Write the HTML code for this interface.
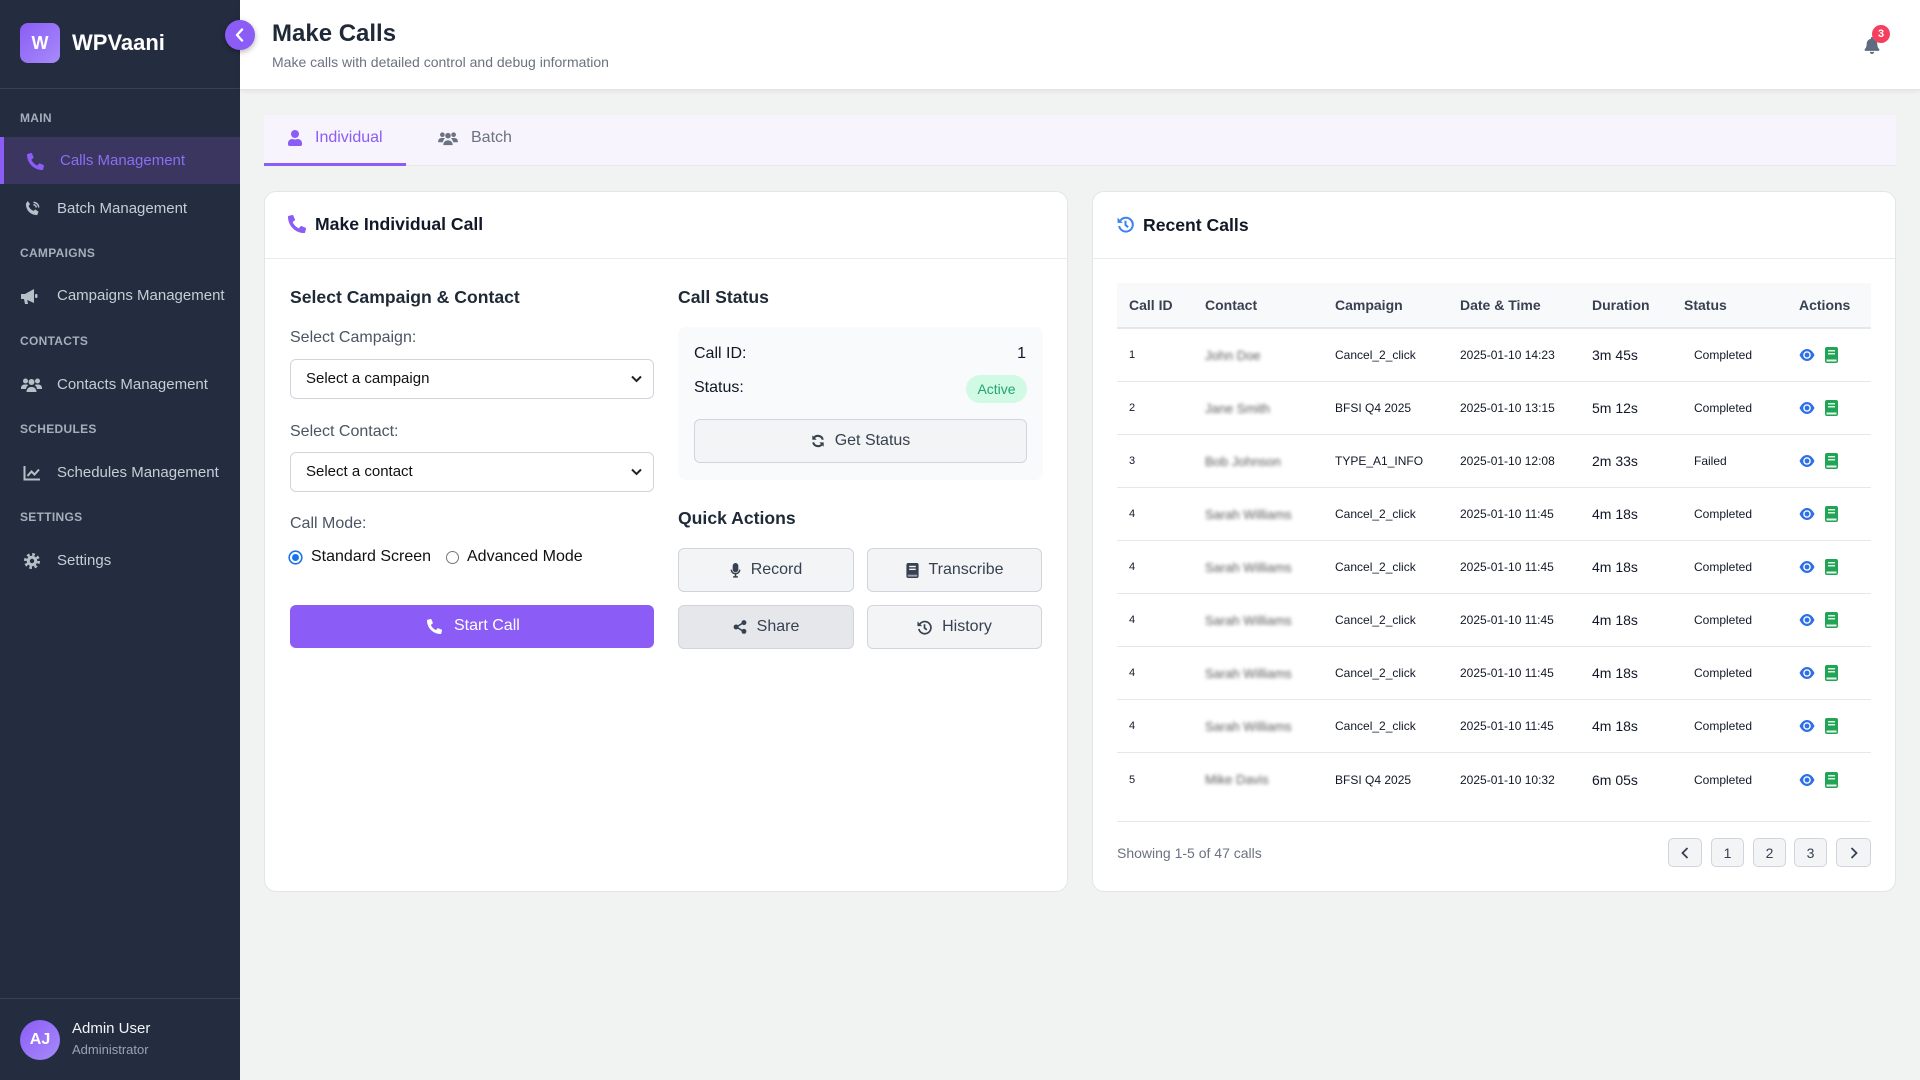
<!DOCTYPE html>
<html>
<head>
<meta charset="utf-8">
<style>
*{box-sizing:border-box;}
html,body{margin:0;padding:0;}
body{width:1920px;height:1080px;overflow:hidden;background:#f1f2f2;font-family:"Liberation Sans",Arial,sans-serif;position:relative;}
.a{position:absolute;white-space:nowrap;}
.sb{position:absolute;left:0;top:0;width:240px;height:1080px;background:#232d3f;}
.sec{position:absolute;left:20px;font-size:12px;font-weight:bold;color:#a6aebb;letter-spacing:0.3px;line-height:16px;}
.nav{position:absolute;left:57px;font-size:15px;color:#c6cdd6;line-height:20px;white-space:nowrap;}
.ico{position:absolute;}
.lbl{position:absolute;font-size:16px;color:#4b5563;line-height:20px;white-space:nowrap;}
.h3{position:absolute;font-size:17.6px;font-weight:bold;color:#1f2937;line-height:22px;white-space:nowrap;}
.sel{position:absolute;left:290px;width:364px;height:40px;border:1px solid #d1d5db;border-radius:6px;background:#fff;}
.sel span{position:absolute;left:15px;top:9px;font-size:15px;color:#111;line-height:20px;}
.sel svg{position:absolute;right:11px;top:15px;}
.btn{position:absolute;display:flex;align-items:center;justify-content:center;gap:10px;font-size:16px;color:#374151;background:#f3f4f6;border:1px solid #d1d5db;border-radius:6px;}
.row{position:absolute;left:1117px;width:754px;height:53px;border-bottom:1px solid #e5e7eb;display:flex;align-items:center;font-size:12px;color:#111827;}
.row > div{padding-left:12px;white-space:nowrap;}
.c1{width:76px;font-size:11px;}
.c2{width:130px;}
.c3{width:125px;}
.c4{width:132px;}
.c5{width:92px;font-size:14px;}
.c6{width:115px;}
.c6 span{padding-left:10px;}
.c7{width:84px;display:flex;align-items:center;gap:10px;}
.blur{color:#5a5a5a;filter:blur(1.8px);font-size:13px;display:inline-block;}
.pg{position:absolute;top:838px;height:29px;background:#f3f4f6;border:1px solid #d1d5db;border-radius:5px;display:flex;align-items:center;justify-content:center;font-size:14px;color:#374151;}
</style>
</head>
<body>

<!-- SIDEBAR -->
<div class="sb"></div>
<div class="a" style="left:20px;top:23px;width:40px;height:40px;border-radius:8px;background:linear-gradient(135deg,#8b5cf6,#a78bfa);color:#fff;font-weight:bold;font-size:18px;line-height:40px;text-align:center;">W</div>
<div class="a" style="left:72px;top:30px;font-size:22px;font-weight:bold;color:#fff;line-height:26px;">WPVaani</div>
<div class="a" style="left:0;top:88px;width:240px;height:1px;background:#364152;"></div>

<div class="sec" style="top:110px;">MAIN</div>
<div class="a" style="left:0;top:137px;width:240px;height:47px;background:#3a365f;border-left:4px solid #8b5cf6;"></div>
<svg class="ico" style="left:27px;top:153px;" width="17" height="17" viewBox="0 0 512 512"><path fill="#8b5cf6" d="M497.39 361.8l-112-48a24 24 0 0 0-28 6.9l-49.6 60.6A370.66 370.66 0 0 1 130.6 204.11l60.6-49.6a23.94 23.94 0 0 0 6.9-28l-48-112A24.16 24.16 0 0 0 122.6.61l-104 24A24 24 0 0 0 0 48c0 256.5 207.9 464 464 464a24 24 0 0 0 23.4-18.6l24-104a24.29 24.29 0 0 0-14.01-27.6z"/></svg>
<div class="nav" style="left:60px;top:151px;color:#8d6df2;">Calls Management</div>

<svg class="ico" style="left:24px;top:200px;" width="17" height="17" viewBox="0 0 18 18"><path fill="#b7bfc9" d="M4 1l2.5 3.5-1.6 1.6c.8 2.6 2.8 4.6 5.4 5.4l1.6-1.6L15.4 12.4 14 16c-7 0-12-5-12-12z"/><path d="M10 2.5a5.5 5.5 0 0 1 5.5 5.5M10 5a3 3 0 0 1 3 3" stroke="#b7bfc9" stroke-width="1.6" fill="none"/></svg>
<div class="nav" style="top:199px;">Batch Management</div>

<div class="sec" style="top:245px;">CAMPAIGNS</div>
<svg class="ico" style="left:20px;top:288px;" width="18" height="17" viewBox="0 0 18 17"><path fill="#b7bfc9" d="M1 6h4l9-5v14l-9-4H1z"/><path fill="#b7bfc9" d="M4 11h3l1 5H5z"/><rect x="15" y="6" width="2.5" height="4" rx="1" fill="#b7bfc9"/></svg>
<div class="nav" style="top:286px;">Campaigns Management</div>

<div class="sec" style="top:333px;">CONTACTS</div>
<svg class="ico" style="left:21px;top:377px;" width="21" height="16" viewBox="0 0 21 16"><circle cx="4.5" cy="4" r="2.5" fill="#b7bfc9"/><circle cx="16.5" cy="4" r="2.5" fill="#b7bfc9"/><circle cx="10.5" cy="5" r="3" fill="#b7bfc9"/><path fill="#b7bfc9" d="M0 11c0-2 1.5-3.5 3.5-3.5h2c.7 0 1.3.2 1.8.5C6 9 5.2 10.4 5 12H0zM21 11c0-2-1.5-3.5-3.5-3.5h-2c-.7 0-1.3.2-1.8.5 1.3 1 2.1 2.4 2.3 4H21zM5.5 15c0-3 2-5 4.5-5h1c2.5 0 4.5 2 4.5 5z"/></svg>
<div class="nav" style="top:375px;">Contacts Management</div>

<div class="sec" style="top:421px;">SCHEDULES</div>
<svg class="ico" style="left:23px;top:465px;" width="18" height="16" viewBox="0 0 18 16"><path d="M1.5 1v13.5H17" stroke="#b7bfc9" stroke-width="2" fill="none"/><path d="M4.5 11l4-4.5 3 3L16 4.5" stroke="#b7bfc9" stroke-width="2" fill="none"/></svg>
<div class="nav" style="top:463px;">Schedules Management</div>

<div class="sec" style="top:509px;">SETTINGS</div>
<svg class="ico" style="left:24px;top:553px;" width="16" height="16" viewBox="0 0 16 16"><circle cx="8" cy="8" r="5.3" fill="#b7bfc9"/><circle cx="8" cy="8" r="6.6" fill="none" stroke="#b7bfc9" stroke-width="2.8" stroke-dasharray="2.6 2.58"/><circle cx="8" cy="8" r="2.2" fill="#232d3f"/></svg>
<div class="nav" style="top:551px;">Settings</div>

<div class="a" style="left:0;top:998px;width:240px;height:1px;background:#364152;"></div>
<div class="a" style="left:20px;top:1020px;width:40px;height:40px;border-radius:50%;background:linear-gradient(135deg,#8b5cf6,#a78bfa);color:#fff;font-weight:bold;font-size:16px;line-height:40px;text-align:center;">AJ</div>
<div class="a" style="left:72px;top:1019px;font-size:15px;color:#f3f4f6;line-height:20px;">Admin User</div>
<div class="a" style="left:72px;top:1042px;font-size:13px;color:#9ca3af;line-height:16px;">Administrator</div>

<!-- HEADER -->
<div class="a" style="left:240px;top:0;width:1680px;height:90px;background:#fff;border-bottom:1px solid #e2e4e6;box-shadow:0 2px 4px rgba(0,0,0,0.05);"></div>
<div class="a" style="left:225px;top:20px;width:30px;height:30px;border-radius:50%;background:#8b5cf6;box-shadow:0 2px 6px rgba(0,0,0,0.3);z-index:5;">
<svg style="position:absolute;left:10px;top:8px;" width="9" height="14" viewBox="0 0 9 14"><path d="M7 1.5L2 7l5 5.5" stroke="#fff" stroke-width="2.4" fill="none" stroke-linecap="round" stroke-linejoin="round"/></svg>
</div>
<div class="a" style="left:272px;top:20px;font-size:24px;font-weight:bold;color:#1f2937;line-height:28px;">Make Calls</div>
<div class="a" style="left:272px;top:52px;font-size:14px;color:#6b7280;line-height:20px;">Make calls with detailed control and debug information</div>
<svg class="ico" style="left:1864px;top:37px;" width="16" height="17" viewBox="0 0 448 512"><path fill="#5f6b7e" d="M224 512c35.32 0 63.970-28.65 63.97-64H160.03c0 35.35 28.65 64 63.97 64zm215.39-149.71c-19.32-20.76-55.47-51.99-55.47-154.29 0-77.7-54.48-139.9-127.94-155.16V32c0-17.67-14.32-32-31.98-32s-31.98 14.33-31.98 32v20.84C118.56 68.1 64.08 130.3 64.08 208c0 102.3-36.15 133.53-55.47 154.29-6 6.45-8.66 14.16-8.61 21.71.11 16.4 12.98 32 32.1 32h383.8c19.12 0 32-15.6 32.1-32 .05-7.55-2.61-15.27-8.61-21.710z"/></svg>
<div class="a" style="left:1872px;top:25px;width:18px;height:18px;border-radius:50%;background:#f43f5e;color:#fff;font-size:11px;font-weight:bold;line-height:18px;text-align:center;">3</div>

<!-- TABS -->
<div class="a" style="left:264px;top:115px;width:1632px;height:51px;background:#f8f4fd;border-bottom:1px solid #ece7f4;"></div>
<div class="a" style="left:264px;top:163px;width:142px;height:3px;background:#8b5cf6;"></div>
<svg class="ico" style="left:288px;top:130px;" width="14" height="16" viewBox="0 0 448 512"><path fill="#8b5cf6" d="M224 256c70.7 0 128-57.3 128-128S294.7 0 224 0 96 57.3 96 128s57.3 128 128 128zm89.6 32h-16.7c-22.2 10.2-46.9 16-72.9 16s-50.6-5.8-72.9-16h-16.7C60.2 288 0 348.2 0 422.4V464c0 26.5 21.5 48 48 48h352c26.5 0 48-21.5 48-48v-41.6c0-74.2-60.2-134.4-134.4-134.4z"/></svg>
<div class="a" style="left:315px;top:128px;font-size:16px;color:#8b5cf6;line-height:20px;">Individual</div>
<svg class="ico" style="left:438px;top:131px;" width="20" height="15" viewBox="0 0 21 16"><circle cx="4.5" cy="4" r="2.5" fill="#6b7280"/><circle cx="16.5" cy="4" r="2.5" fill="#6b7280"/><circle cx="10.5" cy="5" r="3" fill="#6b7280"/><path fill="#6b7280" d="M0 11c0-2 1.5-3.5 3.5-3.5h2c.7 0 1.3.2 1.8.5C6 9 5.2 10.4 5 12H0zM21 11c0-2-1.5-3.5-3.5-3.5h-2c-.7 0-1.3.2-1.8.5 1.3 1 2.1 2.4 2.3 4H21zM5.5 15c0-3 2-5 4.5-5h1c2.5 0 4.5 2 4.5 5z"/></svg>
<div class="a" style="left:471px;top:128px;font-size:16px;color:#6b7280;line-height:20px;">Batch</div>

<!-- LEFT CARD -->
<div class="a" style="left:264px;top:191px;width:804px;height:701px;background:#fff;border:1px solid #e3e5e8;border-radius:12px;"></div>
<div class="a" style="left:265px;top:258px;width:802px;height:1px;background:#e9ebee;"></div>
<svg class="ico" style="left:288px;top:215px;" width="18" height="18" viewBox="0 0 512 512"><path fill="#8b5cf6" d="M497.39 361.8l-112-48a24 24 0 0 0-28 6.9l-49.6 60.6A370.66 370.66 0 0 1 130.6 204.11l60.6-49.6a23.94 23.94 0 0 0 6.9-28l-48-112A24.16 24.16 0 0 0 122.6.61l-104 24A24 24 0 0 0 0 48c0 256.5 207.9 464 464 464a24 24 0 0 0 23.4-18.6l24-104a24.29 24.29 0 0 0-14.01-27.6z"/></svg>
<div class="h3" style="left:315px;top:213px;color:#111827;">Make Individual Call</div>

<div class="h3" style="left:290px;top:286px;">Select Campaign &amp; Contact</div>
<div class="lbl" style="left:290px;top:328px;">Select Campaign:</div>
<div class="sel" style="top:359px;"><span>Select a campaign</span><svg width="11" height="8" viewBox="0 0 11 8"><path d="M1 1.5l4.5 4.5L10 1.5" stroke="#222" stroke-width="2" fill="none"/></svg></div>
<div class="lbl" style="left:290px;top:422px;">Select Contact:</div>
<div class="sel" style="top:452px;"><span>Select a contact</span><svg width="11" height="8" viewBox="0 0 11 8"><path d="M1 1.5l4.5 4.5L10 1.5" stroke="#222" stroke-width="2" fill="none"/></svg></div>
<div class="lbl" style="left:290px;top:514px;">Call Mode:</div>
<div class="a" style="left:290px;top:552px;width:11px;height:11px;border-radius:50%;background:#1a73e8;border:2px solid #fff;box-shadow:0 0 0 1.6px #1a73e8;"></div>
<div class="a" style="left:311px;top:547px;font-size:16px;color:#111;line-height:20px;">Standard Screen</div>
<div class="a" style="left:446px;top:551px;width:13px;height:13px;border-radius:50%;background:#fff;border:1px solid #767676;"></div>
<div class="a" style="left:467px;top:547px;font-size:16px;color:#111;line-height:20px;">Advanced Mode</div>
<div class="a" style="left:290px;top:605px;width:364px;height:43px;background:#8b5cf6;border-radius:6px;"></div>
<svg class="ico" style="left:427px;top:619px;" width="15" height="15" viewBox="0 0 512 512"><path fill="#fff" d="M497.39 361.8l-112-48a24 24 0 0 0-28 6.9l-49.6 60.6A370.66 370.66 0 0 1 130.6 204.11l60.6-49.6a23.94 23.94 0 0 0 6.9-28l-48-112A24.16 24.16 0 0 0 122.6.61l-104 24A24 24 0 0 0 0 48c0 256.5 207.9 464 464 464a24 24 0 0 0 23.4-18.6l24-104a24.29 24.29 0 0 0-14.01-27.6z"/></svg>
<div class="a" style="left:454px;top:616px;font-size:16px;color:#fff;line-height:20px;">Start Call</div>

<div class="h3" style="left:678px;top:286px;">Call Status</div>
<div class="a" style="left:678px;top:327px;width:365px;height:153px;background:#f9fafb;border-radius:8px;"></div>
<div class="a" style="left:694px;top:344px;font-size:16px;color:#111827;line-height:20px;">Call ID:</div>
<div class="a" style="left:1006px;top:344px;width:20px;text-align:right;font-size:16px;color:#111827;line-height:20px;">1</div>
<div class="a" style="left:694px;top:378px;font-size:16px;color:#111827;line-height:20px;">Status:</div>
<div class="a" style="left:966px;top:375px;width:61px;height:28px;border-radius:14px;background:#d1fae5;color:#22a56a;font-size:14px;line-height:28px;text-align:center;">Active</div>
<div class="btn" style="left:694px;top:419px;width:333px;height:44px;">
<svg width="14" height="14" viewBox="0 0 16 16"><path d="M13.5 6.5A5.7 5.7 0 0 0 3 5" stroke="#374151" stroke-width="2.4" fill="none"/><path d="M1.5 1.5v5h5z" fill="#374151"/><path d="M2.5 9.5A5.7 5.7 0 0 0 13 11" stroke="#374151" stroke-width="2.4" fill="none"/><path d="M14.5 14.5v-5h-5z" fill="#374151"/></svg>
<span>Get Status</span></div>

<div class="h3" style="left:678px;top:507px;">Quick Actions</div>
<div class="btn" style="left:678px;top:548px;width:176px;height:44px;">
<svg width="11" height="15" viewBox="0 0 11 16"><rect x="2.5" y="0" width="6" height="10" rx="3" fill="#374151"/><path d="M1 7a4.5 4.5 0 0 0 9 0" stroke="#374151" stroke-width="1.6" fill="none"/><rect x="4.7" y="11.5" width="1.6" height="3" fill="#374151"/><rect x="3" y="14" width="5" height="1.6" fill="#374151"/></svg>
<span>Record</span></div>
<div class="btn" style="left:867px;top:548px;width:175px;height:44px;">
<svg width="13" height="15" viewBox="0 0 13 16"><rect x="0" y="0" width="13" height="16" rx="2" fill="#374151"/><rect x="3" y="3" width="7" height="1.5" fill="#f3f4f6"/><rect x="3" y="6" width="7" height="1.5" fill="#f3f4f6"/><rect x="1.5" y="12.5" width="10" height="2" fill="#9ca3af"/></svg>
<span>Transcribe</span></div>
<div class="btn" style="left:678px;top:605px;width:176px;height:44px;background:#e5e7eb;">
<svg width="14" height="14" viewBox="0 0 16 16"><path d="M12 3L4 8l8 5" stroke="#374151" stroke-width="1.8" fill="none"/><circle cx="12.5" cy="3" r="2.8" fill="#374151"/><circle cx="3.5" cy="8" r="2.8" fill="#374151"/><circle cx="12.5" cy="13" r="2.8" fill="#374151"/></svg>
<span>Share</span></div>
<div class="btn" style="left:867px;top:605px;width:175px;height:44px;">
<svg width="15" height="15" viewBox="0 0 16 16"><path d="M3.2 4.2A6.5 6.5 0 1 1 2 9.5" stroke="#374151" stroke-width="1.8" fill="none"/><path d="M0.5 1.5l0 5 5 0z" fill="#374151"/><path d="M8 4.5V8.5l2.5 2" stroke="#374151" stroke-width="1.8" fill="none"/></svg>
<span>History</span></div>

<!-- RIGHT CARD -->
<div class="a" style="left:1092px;top:191px;width:804px;height:701px;background:#fff;border:1px solid #e3e5e8;border-radius:12px;"></div>
<div class="a" style="left:1093px;top:258px;width:802px;height:1px;background:#e9ebee;"></div>
<svg class="ico" style="left:1117px;top:216px;" width="17" height="17" viewBox="0 0 16 16"><path d="M3.2 4.2A6.5 6.5 0 1 1 2 9.5" stroke="#3b82f6" stroke-width="1.9" fill="none"/><path d="M0.5 1.5l0 5 5 0z" fill="#3b82f6"/><path d="M8 4.5V8.5l2.5 2" stroke="#3b82f6" stroke-width="1.9" fill="none"/></svg>
<div class="h3" style="left:1143px;top:214px;color:#111827;">Recent Calls</div>

<div class="a" style="left:1117px;top:283px;width:754px;height:46px;background:#f8f9fa;border-bottom:2px solid #e5e7eb;display:flex;align-items:center;font-size:14px;font-weight:bold;color:#374151;">
<div style="width:76px;padding-left:12px;">Call ID</div>
<div style="width:130px;padding-left:12px;">Contact</div>
<div style="width:125px;padding-left:12px;">Campaign</div>
<div style="width:132px;padding-left:12px;">Date &amp; Time</div>
<div style="width:92px;padding-left:12px;">Duration</div>
<div style="width:115px;padding-left:12px;">Status</div>
<div style="width:84px;padding-left:12px;">Actions</div>
</div>

<div class="row" style="top:329px;"><div class="c1">1</div><div class="c2"><span class="blur">John Doe</span></div><div class="c3">Cancel_2_click</div><div class="c4">2025-01-10 14:23</div><div class="c5">3m 45s</div><div class="c6"><span>Completed</span></div><div class="c7"><svg width="16" height="14" viewBox="0 0 16 14"><path d="M0.5 7C2.5 3 5 1 8 1s5.5 2 7.5 6c-2 4-4.5 6-7.5 6S2.5 11 0.5 7z" fill="#2f6fe8"/><circle cx="8" cy="7" r="3.8" fill="#fff"/><circle cx="8" cy="7" r="2.4" fill="#2f6fe8"/></svg><svg width="13" height="16" viewBox="0 0 13 16"><rect width="13" height="16" rx="2" fill="#22a355"/><rect x="3" y="3" width="7" height="1.5" fill="#d9f5e3"/><rect x="3" y="6" width="7" height="1.5" fill="#d9f5e3"/><rect x="1.5" y="12.5" width="10" height="2" fill="#e8f5ec"/></svg></div></div>
<div class="row" style="top:382px;"><div class="c1">2</div><div class="c2"><span class="blur">Jane Smith</span></div><div class="c3">BFSI Q4 2025</div><div class="c4">2025-01-10 13:15</div><div class="c5">5m 12s</div><div class="c6"><span>Completed</span></div><div class="c7"><svg width="16" height="14" viewBox="0 0 16 14"><path d="M0.5 7C2.5 3 5 1 8 1s5.5 2 7.5 6c-2 4-4.5 6-7.5 6S2.5 11 0.5 7z" fill="#2f6fe8"/><circle cx="8" cy="7" r="3.8" fill="#fff"/><circle cx="8" cy="7" r="2.4" fill="#2f6fe8"/></svg><svg width="13" height="16" viewBox="0 0 13 16"><rect width="13" height="16" rx="2" fill="#22a355"/><rect x="3" y="3" width="7" height="1.5" fill="#d9f5e3"/><rect x="3" y="6" width="7" height="1.5" fill="#d9f5e3"/><rect x="1.5" y="12.5" width="10" height="2" fill="#e8f5ec"/></svg></div></div>
<div class="row" style="top:435px;"><div class="c1">3</div><div class="c2"><span class="blur">Bob Johnson</span></div><div class="c3">TYPE_A1_INFO</div><div class="c4">2025-01-10 12:08</div><div class="c5">2m 33s</div><div class="c6"><span>Failed</span></div><div class="c7"><svg width="16" height="14" viewBox="0 0 16 14"><path d="M0.5 7C2.5 3 5 1 8 1s5.5 2 7.5 6c-2 4-4.5 6-7.5 6S2.5 11 0.5 7z" fill="#2f6fe8"/><circle cx="8" cy="7" r="3.8" fill="#fff"/><circle cx="8" cy="7" r="2.4" fill="#2f6fe8"/></svg><svg width="13" height="16" viewBox="0 0 13 16"><rect width="13" height="16" rx="2" fill="#22a355"/><rect x="3" y="3" width="7" height="1.5" fill="#d9f5e3"/><rect x="3" y="6" width="7" height="1.5" fill="#d9f5e3"/><rect x="1.5" y="12.5" width="10" height="2" fill="#e8f5ec"/></svg></div></div>
<div class="row" style="top:488px;"><div class="c1">4</div><div class="c2"><span class="blur">Sarah Williams</span></div><div class="c3">Cancel_2_click</div><div class="c4">2025-01-10 11:45</div><div class="c5">4m 18s</div><div class="c6"><span>Completed</span></div><div class="c7"><svg width="16" height="14" viewBox="0 0 16 14"><path d="M0.5 7C2.5 3 5 1 8 1s5.5 2 7.5 6c-2 4-4.5 6-7.5 6S2.5 11 0.5 7z" fill="#2f6fe8"/><circle cx="8" cy="7" r="3.8" fill="#fff"/><circle cx="8" cy="7" r="2.4" fill="#2f6fe8"/></svg><svg width="13" height="16" viewBox="0 0 13 16"><rect width="13" height="16" rx="2" fill="#22a355"/><rect x="3" y="3" width="7" height="1.5" fill="#d9f5e3"/><rect x="3" y="6" width="7" height="1.5" fill="#d9f5e3"/><rect x="1.5" y="12.5" width="10" height="2" fill="#e8f5ec"/></svg></div></div>
<div class="row" style="top:541px;"><div class="c1">4</div><div class="c2"><span class="blur">Sarah Williams</span></div><div class="c3">Cancel_2_click</div><div class="c4">2025-01-10 11:45</div><div class="c5">4m 18s</div><div class="c6"><span>Completed</span></div><div class="c7"><svg width="16" height="14" viewBox="0 0 16 14"><path d="M0.5 7C2.5 3 5 1 8 1s5.5 2 7.5 6c-2 4-4.5 6-7.5 6S2.5 11 0.5 7z" fill="#2f6fe8"/><circle cx="8" cy="7" r="3.8" fill="#fff"/><circle cx="8" cy="7" r="2.4" fill="#2f6fe8"/></svg><svg width="13" height="16" viewBox="0 0 13 16"><rect width="13" height="16" rx="2" fill="#22a355"/><rect x="3" y="3" width="7" height="1.5" fill="#d9f5e3"/><rect x="3" y="6" width="7" height="1.5" fill="#d9f5e3"/><rect x="1.5" y="12.5" width="10" height="2" fill="#e8f5ec"/></svg></div></div>
<div class="row" style="top:594px;"><div class="c1">4</div><div class="c2"><span class="blur">Sarah Williams</span></div><div class="c3">Cancel_2_click</div><div class="c4">2025-01-10 11:45</div><div class="c5">4m 18s</div><div class="c6"><span>Completed</span></div><div class="c7"><svg width="16" height="14" viewBox="0 0 16 14"><path d="M0.5 7C2.5 3 5 1 8 1s5.5 2 7.5 6c-2 4-4.5 6-7.5 6S2.5 11 0.5 7z" fill="#2f6fe8"/><circle cx="8" cy="7" r="3.8" fill="#fff"/><circle cx="8" cy="7" r="2.4" fill="#2f6fe8"/></svg><svg width="13" height="16" viewBox="0 0 13 16"><rect width="13" height="16" rx="2" fill="#22a355"/><rect x="3" y="3" width="7" height="1.5" fill="#d9f5e3"/><rect x="3" y="6" width="7" height="1.5" fill="#d9f5e3"/><rect x="1.5" y="12.5" width="10" height="2" fill="#e8f5ec"/></svg></div></div>
<div class="row" style="top:647px;"><div class="c1">4</div><div class="c2"><span class="blur">Sarah Williams</span></div><div class="c3">Cancel_2_click</div><div class="c4">2025-01-10 11:45</div><div class="c5">4m 18s</div><div class="c6"><span>Completed</span></div><div class="c7"><svg width="16" height="14" viewBox="0 0 16 14"><path d="M0.5 7C2.5 3 5 1 8 1s5.5 2 7.5 6c-2 4-4.5 6-7.5 6S2.5 11 0.5 7z" fill="#2f6fe8"/><circle cx="8" cy="7" r="3.8" fill="#fff"/><circle cx="8" cy="7" r="2.4" fill="#2f6fe8"/></svg><svg width="13" height="16" viewBox="0 0 13 16"><rect width="13" height="16" rx="2" fill="#22a355"/><rect x="3" y="3" width="7" height="1.5" fill="#d9f5e3"/><rect x="3" y="6" width="7" height="1.5" fill="#d9f5e3"/><rect x="1.5" y="12.5" width="10" height="2" fill="#e8f5ec"/></svg></div></div>
<div class="row" style="top:700px;"><div class="c1">4</div><div class="c2"><span class="blur">Sarah Williams</span></div><div class="c3">Cancel_2_click</div><div class="c4">2025-01-10 11:45</div><div class="c5">4m 18s</div><div class="c6"><span>Completed</span></div><div class="c7"><svg width="16" height="14" viewBox="0 0 16 14"><path d="M0.5 7C2.5 3 5 1 8 1s5.5 2 7.5 6c-2 4-4.5 6-7.5 6S2.5 11 0.5 7z" fill="#2f6fe8"/><circle cx="8" cy="7" r="3.8" fill="#fff"/><circle cx="8" cy="7" r="2.4" fill="#2f6fe8"/></svg><svg width="13" height="16" viewBox="0 0 13 16"><rect width="13" height="16" rx="2" fill="#22a355"/><rect x="3" y="3" width="7" height="1.5" fill="#d9f5e3"/><rect x="3" y="6" width="7" height="1.5" fill="#d9f5e3"/><rect x="1.5" y="12.5" width="10" height="2" fill="#e8f5ec"/></svg></div></div>
<div class="row" style="top:753px;border-bottom:none;"><div class="c1">5</div><div class="c2"><span class="blur">Mike Davis</span></div><div class="c3">BFSI Q4 2025</div><div class="c4">2025-01-10 10:32</div><div class="c5">6m 05s</div><div class="c6"><span>Completed</span></div><div class="c7"><svg width="16" height="14" viewBox="0 0 16 14"><path d="M0.5 7C2.5 3 5 1 8 1s5.5 2 7.5 6c-2 4-4.5 6-7.5 6S2.5 11 0.5 7z" fill="#2f6fe8"/><circle cx="8" cy="7" r="3.8" fill="#fff"/><circle cx="8" cy="7" r="2.4" fill="#2f6fe8"/></svg><svg width="13" height="16" viewBox="0 0 13 16"><rect width="13" height="16" rx="2" fill="#22a355"/><rect x="3" y="3" width="7" height="1.5" fill="#d9f5e3"/><rect x="3" y="6" width="7" height="1.5" fill="#d9f5e3"/><rect x="1.5" y="12.5" width="10" height="2" fill="#e8f5ec"/></svg></div></div>

<div class="a" style="left:1117px;top:821px;width:754px;height:1px;background:#e5e7eb;"></div>
<div class="a" style="left:1117px;top:843px;font-size:14px;color:#6b7280;line-height:20px;">Showing 1-5 of 47 calls</div>
<div class="pg" style="left:1668px;width:34px;"><svg width="8" height="12" viewBox="0 0 8 12"><path d="M6.5 1L1.5 6l5 5" stroke="#374151" stroke-width="1.8" fill="none"/></svg></div>
<div class="pg" style="left:1711px;width:33px;">1</div>
<div class="pg" style="left:1753px;width:33px;">2</div>
<div class="pg" style="left:1794px;width:33px;">3</div>
<div class="pg" style="left:1836px;width:35px;"><svg width="8" height="12" viewBox="0 0 8 12"><path d="M1.5 1l5 5-5 5" stroke="#374151" stroke-width="1.8" fill="none"/></svg></div>

</body>
</html>
